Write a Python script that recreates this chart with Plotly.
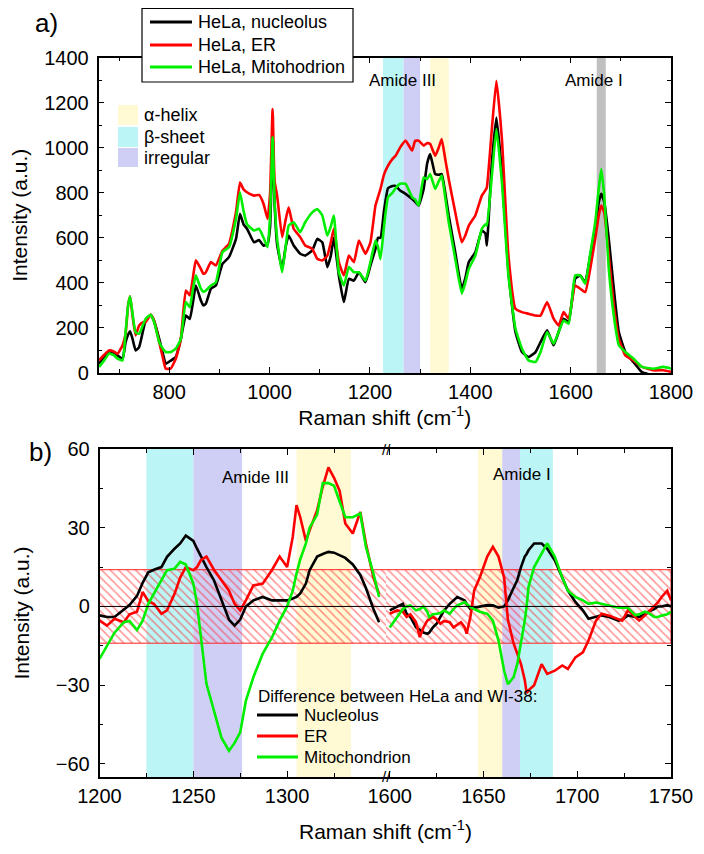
import plotly.graph_objects as go

# ---------------- Panel a) data ----------------
shift_a = [660, 670, 680, 690, 697, 707, 713, 718, 722, 727, 733, 740, 748, 753, 763, 770, 780, 788, 793, 803,
           813, 823, 833, 841, 847, 853, 863, 868, 873, 883, 893, 906, 919, 933, 941, 948, 955, 969, 979, 988,
           996, 1001, 1006, 1010, 1015, 1025, 1032, 1038, 1048, 1061, 1071, 1085, 1095, 1105, 1115, 1122, 1128, 1138, 1148, 1158,
           1168, 1178, 1191, 1201, 1211, 1216, 1221, 1228, 1236, 1245, 1251, 1260, 1271, 1284, 1290, 1297, 1307, 1314, 1320, 1330,
           1337, 1343, 1350, 1357, 1370, 1383, 1390, 1397, 1410, 1423, 1430, 1433, 1443, 1452, 1463, 1476, 1490, 1503, 1516, 1530,
           1540, 1553, 1566, 1576, 1586, 1596, 1609, 1619, 1629, 1639, 1649, 1656, 1661, 1667, 1676, 1686, 1696, 1709, 1725, 1742,
           1765, 1785, 1800]
nucleolus_a = [41, 70, 96, 90, 78, 63, 137, 170, 185, 150, 100, 115, 190, 235, 258, 230, 152, 80, 41, 55,
               71, 150, 255, 240, 310, 388, 322, 300, 307, 374, 388, 484, 514, 595, 706, 660, 640, 580, 590, 565,
               573, 650, 1046, 750, 570, 462, 560, 610, 566, 529, 521, 544, 595, 580, 470, 520, 600, 433, 315, 418,
               410, 447, 403, 477, 551, 600, 600, 720, 820, 830, 830, 810, 795, 772, 760, 743, 817, 930, 972, 883,
               880, 883, 800, 699, 536, 374, 420, 492, 536, 632, 620, 566, 935, 1134, 891, 447, 182, 93, 71, 93,
               137, 189, 123, 182, 241, 226, 418, 433, 403, 521, 625, 758, 795, 758, 595, 374, 182, 93, 49, 4,
               -10, -10, -10]
er_a = [56, 80, 100, 95, 85, 123, 174, 300, 340, 250, 167, 211, 225, 226, 258, 230, 137, 60, 19, 20,
        63, 150, 366, 344, 420, 500, 462, 440, 447, 492, 477, 543, 573, 713, 845, 815, 802, 787, 790, 750,
        684, 800, 1171, 850, 787, 603, 680, 735, 640, 603, 566, 551, 507, 499, 521, 580, 640, 492, 433, 521,
        492, 588, 529, 580, 743, 780, 817, 880, 920, 950, 964, 1000, 1031, 987, 1030, 1031, 1009, 1020, 1016, 964,
        1000, 1038, 950, 861, 713, 580, 610, 654, 699, 787, 810, 824, 1083, 1297, 1038, 521, 285, 270, 263, 255,
        255, 315, 241, 211, 270, 241, 388, 374, 359, 462, 595, 699, 743, 713, 521, 300, 152, 78, 56, 27,
        12, 12, 5]
mito_a = [27, 55, 86, 78, 64, 56, 182, 300, 340, 260, 180, 174, 215, 240, 258, 225, 137, 105, 93, 93,
          108, 150, 315, 292, 370, 433, 374, 360, 366, 388, 403, 536, 558, 684, 802, 720, 660, 632, 640, 600,
          558, 700, 1046, 760, 595, 447, 560, 654, 669, 625, 669, 713, 728, 699, 610, 650, 699, 447, 388, 470,
          447, 447, 410, 492, 588, 560, 505, 650, 780, 800, 820, 840, 839, 780, 770, 743, 868, 860, 883, 817,
          850, 876, 780, 669, 507, 352, 400, 462, 521, 640, 660, 654, 876, 1083, 846, 433, 196, 108, 56, 49,
          93, 182, 130, 182, 233, 219, 433, 433, 396, 529, 669, 817, 905, 787, 462, 255, 123, 93, 64, 27,
          19, 27, 20]

# ---------------- Panel b) data ----------------
shift_b1 = [1200, 1204, 1208, 1213, 1216, 1220, 1223, 1226, 1229, 1233, 1236, 1240, 1243, 1246, 1250, 1252, 1254, 1257, 1261, 1265,
            1269, 1272, 1275, 1278, 1282, 1287, 1292, 1296, 1300, 1303, 1305, 1307, 1310, 1312, 1316, 1319, 1322, 1325, 1328, 1331,
            1335, 1339, 1342, 1346, 1349]
nucleolus_b1 = [-3.4, -4, -4, -1, 0.5, 4, 9, 13, 14, 15, 18.9, 22, 24, 27, 25, 22, 19, 15, 10, 2.3,
                -5, -7.3, -5, 0, 2.3, 3.6, 2.3, 2.3, 2.3, 3, 3.6, 5, 8.7, 13.8, 19, 20, 20.8, 20.5, 19.5, 18.5,
                16, 12, 7, -1, -6]
er_b1 = [-5.4, -7.3, -4.7, -6, -3, -2, 5.5, 2, 1, -2.8, -1.5, 4.8, 11, 15, 13.8, 15, 17.6, 19, 14, 10,
         6, 1, -1.5, 2.3, 8, 8.7, 14, 19, 15, 26.5, 38.6, 34, 25, 29, 36.7, 45.6, 53, 49, 44, 31.6,
         27.8, 36, 24, 11, 4.8]
mito_b1 = [-20, -15, -10, -6, -5.5, -9, -5.4, 1, 5, 10, 13.8, 14.4, 17, 16, 8.7, 1, -11.7, -29.5, -39.7, -50,
           -55, -52, -48, -36, -27, -18, -11.7, -5.4, 0, 6, 12.5, 18, 24, 30, 35, 47, 47, 46, 40, 34,
           34, 35.4, 22.7, 12.5, 3.6]

shift_b2 = [1600, 1604, 1607, 1609, 1611, 1614, 1616, 1618, 1620, 1621, 1623, 1625, 1627, 1629, 1632, 1634, 1636, 1638, 1640, 1641,
            1643, 1645, 1648, 1652, 1655, 1658, 1661, 1663, 1666, 1668, 1670, 1672, 1673, 1674, 1677, 1681, 1684, 1688, 1692, 1695,
            1699, 1703, 1706, 1710, 1713, 1717, 1719, 1722, 1724, 1727, 1731, 1733, 1736, 1738, 1741, 1743, 1745, 1748, 1750]
nucleolus_b2 = [-1.5, 0, 1, -2.8, -4, -8, -9, -10, -10.4, -10, -8, -6.6, -4, -1.5, 1, 2.5, 3.6, 3, 2.3, 1,
                -1, -0.5, 0, 0.5, 0.4, -0.5, 0, 2.3, 7, 10, 15, 19, 20, 21.4, 24, 24, 22, 17.6, 11, 6,
                1.7, -1.5, -4.7, -4, -3.4, -4, -4.5, -5.4, -5, -3.4, -4, -4, -3, -2, -1, 0, 0, 0.5, 0]
er_b2 = [-2.8, -1.5, -2, -4, -3, -6, -11.7, -8, -5.4, -5, -4, -5, -6.6, -5.5, -6, -8, -7, -6, -8, -10.4,
         -4, 6, 11, 19, 22.7, 19, 11, -5, -14, -18, -22, -28, -33, -32, -30, -22, -25.7, -24.5, -22.5, -23.8,
         -19.4, -17.5, -13, -5.4, -2.8, -3.5, -4, -5, -5.4, -1.5, -4, -5.4, -3.5, -2, 0.4, 1.5, 3.6, 6, 2.3]
mito_b2 = [-8, -4, -1, 0, 0.4, -1.5, -1, 0, -2, -4, -3, -2.8, -2.5, -1.5, -2.8, -1, 0.4, 1, 1.7, 1,
           -0.3, -1, -2, -2.8, -5.4, -13, -24.5, -29.6, -27, -22, -14, -5.4, 0, 7.4, 15, 20, 24, 19, 11, 6,
           3.6, 2.3, 1, 1.5, 1, 0.5, 0, -0.5, -0.5, -0.5, -3.4, -3, -2, -2.5, -4, -4, -3.5, -3, -2]

noise_level = 14  # half-width of the hatched noise band

# shaded bands (start, end, colour key)
bands_a = [(1226, 1267, "beta"), (1267, 1300, "irr"), (1320, 1357, "alpha"), (1652, 1670, "amide")]
bands_b1 = [(1225, 1250, "beta"), (1250, 1276, "irr"), (1305, 1334, "alpha")]
bands_b2 = [(1647, 1660, "alpha"), (1660, 1669.5, "irr"), (1669.5, 1687, "beta")]

series_names_a = ["HeLa, nucleolus", "HeLa, ER", "HeLa, Mitohodrion"]
series_names_b = ["Nucleolus", "ER", "Mitochondrion"]
legend_b_title = "Difference between HeLa and WI-38:"
band_legend = [("alpha", "α-helix"), ("beta", "β-sheet"), ("irr", "irregular")]

# ---------------- styling ----------------
OFF = 8                    # page body margin of the browser
W, H = 704 - 2 * OFF, 854 - 2 * OFF
FONT = "Arial, Liberation Sans, sans-serif"
colors = ["#000000", "#ff0000", "#00ee00"]
band_colors = {"alpha": "#fffad4", "beta": "#bcf5f5", "irr": "#cfcff6", "amide": "#c0c0c0"}

def px(xp):
    return (xp - OFF) / W

def py(yp):
    return 1 - (yp - OFF) / H

dom_x_a = [px(98.5), px(671)]
dom_y_a = [py(373), py(57.5)]
x_break = px(386)
dom_x_b1 = [px(99.5), x_break]
dom_x_b2 = [x_break, px(671)]
dom_y_b = [py(777), py(449)]

fig = go.Figure()

# panel a curves
for ys, name, c in zip([nucleolus_a, er_a, mito_a], series_names_a, colors):
    fig.add_trace(go.Scatter(x=shift_a, y=ys, name=name, mode="lines", showlegend=False,
                             line=dict(color=c, width=2.6, shape="spline", smoothing=0.4),
                             xaxis="x", yaxis="y"))

# hatched noise band in panel b
for xs, xa, ya in [([1352.7, shift_b1[0], shift_b1[0], 1352.7], "x3", "y3"),
                   ([1598, shift_b2[-1], shift_b2[-1], 1598], "x4", "y4")]:
    fig.add_trace(go.Scatter(x=xs, y=[noise_level, noise_level, -noise_level, -noise_level],
                             mode="lines", fill="toself", fillcolor="rgba(0,0,0,0)",
                             fillpattern=dict(shape="\\", fgcolor="#ff2020", bgcolor="rgba(0,0,0,0)",
                                              size=6, solidity=0.25),
                             line=dict(color="#ff2020", width=1), hoverinfo="skip",
                             showlegend=False, xaxis=xa, yaxis=ya))

# panel b curves
for ys, name, c in zip([nucleolus_b1, er_b1, mito_b1], series_names_b, colors):
    fig.add_trace(go.Scatter(x=shift_b1, y=ys, name=name, mode="lines", showlegend=False,
                             line=dict(color=c, width=2.6), xaxis="x3", yaxis="y3"))
for ys, name, c in zip([nucleolus_b2, er_b2, mito_b2], series_names_b, colors):
    fig.add_trace(go.Scatter(x=shift_b2, y=ys, name=name, mode="lines", showlegend=False,
                             line=dict(color=c, width=2.6), xaxis="x4", yaxis="y4"))

shapes = []
for x0, x1, k in bands_a:
    shapes.append(dict(type="rect", xref="x", yref="y domain", x0=x0, x1=x1, y0=0, y1=1,
                       fillcolor=band_colors[k], line=dict(width=0), layer="below"))
for x0, x1, k in bands_b1:
    shapes.append(dict(type="rect", xref="x3", yref="y3 domain", x0=x0, x1=x1, y0=0, y1=1,
                       fillcolor=band_colors[k], line=dict(width=0), layer="below"))
for x0, x1, k in bands_b2:
    shapes.append(dict(type="rect", xref="x4", yref="y4 domain", x0=x0, x1=x1, y0=0, y1=1,
                       fillcolor=band_colors[k], line=dict(width=0), layer="below"))
# zero line in panel b
shapes.append(dict(type="line", xref="paper", yref="y3", x0=dom_x_b1[0], x1=dom_x_b2[1], y0=0, y1=0,
                   line=dict(color="black", width=1)))


def label(text, x, y, size, xanchor="center"):
    return dict(text=text, xref="paper", yref="paper", x=px(x), y=py(y), xanchor=xanchor,
                yanchor="middle", showarrow=False, font=dict(size=size))


annotations = []
# band legend squares (panel a)
sq_rows = [(105, 125), (127, 147), (148, 167)]
for (k, text), (t, b) in zip(band_legend, sq_rows):
    shapes.append(dict(type="rect", xref="paper", yref="paper", x0=px(118), x1=px(138), y0=py(b), y1=py(t),
                       fillcolor=band_colors[k], line=dict(width=0)))
    annotations.append(label(text, 142, (t + b) / 2, 18, "left"))

# legend of panel a (framed box)
shapes.append(dict(type="rect", xref="paper", yref="paper", x0=px(142), x1=px(353), y0=py(82), y1=py(8.5),
                   fillcolor="white", line=dict(color="black", width=1.2)))
for name, c, yy in zip(series_names_a, colors, [22, 45, 67]):
    shapes.append(dict(type="line", xref="paper", yref="paper", x0=px(150), x1=px(192), y0=py(yy), y1=py(yy),
                       line=dict(color=c, width=3)))
    annotations.append(label(name, 196, yy, 18, "left"))

# legend of panel b
annotations.append(label(legend_b_title, 256, 696, 17, "left"))
for name, c, yy in zip(series_names_b, colors, [715, 736, 757]):
    shapes.append(dict(type="line", xref="paper", yref="paper", x0=px(257), x1=px(298), y0=py(yy), y1=py(yy),
                       line=dict(color=c, width=3)))
    annotations.append(label(name, 302, yy, 17, "left"))

annotations += [
    label("a)", 46, 23, 26),
    label("b)", 40, 452, 26),
    label("Amide III", 402, 81, 17),
    label("Amide I", 594, 81, 17),
    label("Amide III", 255, 477, 17),
    label("Amide I", 522, 474, 17),
    label("//", 386, 449, 15),
    label("//", 386, 776, 15),
    label("Raman shift (cm<sup>-1</sup>)", (99.5 + 671) / 2, 830, 21),
]

axis_common = dict(showline=True, linecolor="black", linewidth=1.5, ticks="inside", ticklen=6,
                   tickcolor="black", tickwidth=1.2, showgrid=False, zeroline=False, automargin=False,
                   tickfont=dict(size=20, color="black"))
minor_common = dict(ticks="inside", ticklen=4, tickcolor="black", tickwidth=1.2, showgrid=False)
title_x = dict(text="Raman shift (cm<sup>-1</sup>)", font=dict(size=21), standoff=4)
title_y = dict(text="Intensity (a.u.)", font=dict(size=21), standoff=20)

fig.update_layout(
    width=W, height=H, autosize=False,
    margin=dict(l=0, r=0, t=0, b=0, pad=0),
    paper_bgcolor="white", plot_bgcolor="white",
    font=dict(family=FONT, color="black"),
    showlegend=False,
    shapes=shapes, annotations=annotations,
    xaxis=dict(domain=dom_x_a, anchor="y", range=[659, 1800], dtick=200, tick0=0, mirror="ticks",
               minor=dict(dtick=100, **minor_common), title=title_x, **axis_common),
    yaxis=dict(domain=dom_y_a, anchor="x", range=[0, 1400], dtick=200, tick0=0, mirror="ticks",
               minor=dict(dtick=100, **minor_common), title=title_y, ticklabelstandoff=4, **axis_common),
    xaxis3=dict(domain=dom_x_b1, anchor="y3", range=[1200, 1352.7], tickvals=[1200, 1250, 1300],
                mirror="ticks", minor=dict(tickvals=[1225, 1275, 1325], **minor_common), **axis_common),
    xaxis4=dict(domain=dom_x_b2, anchor="y4", range=[1598, 1750], tickvals=[1600, 1650, 1700, 1750],
                mirror="ticks", minor=dict(tickvals=[1625, 1675, 1725], **minor_common), **axis_common),
    yaxis3=dict(domain=dom_y_b, anchor="x3", range=[-65, 60], dtick=30, tick0=0,
                minor=dict(dtick=15, **minor_common), title=title_y, ticklabelstandoff=4, **axis_common),
    yaxis4=dict(domain=dom_y_b, anchor="x4", side="right", range=[-65, 60], matches="y3", dtick=30, tick0=0,
                showticklabels=False, minor=dict(dtick=15, **minor_common), **axis_common),
)

fig.write_html("out.html")
